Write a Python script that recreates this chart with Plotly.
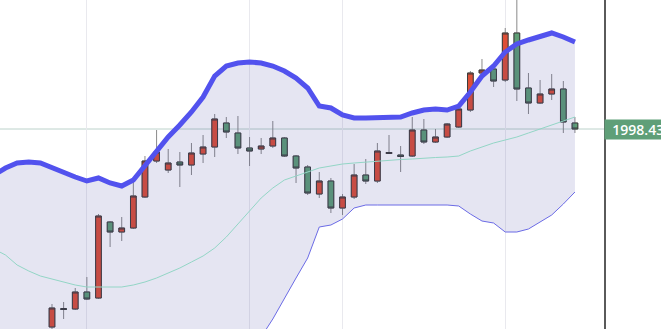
import plotly.graph_objects as go

# ---- data -------------------------------------------------------------
candle_idx = list(range(0, 46))
open_ = [1879.63, 1890.73, 1890.43, 1900.63, 1897.03, 1942.63, 1936.63, 1939.03, 1957.63, 1979.23,
         1973.83, 1978.63, 1976.83, 1983.43, 1987.63, 2002.03, 1996.03, 1987.03, 1986.43, 1988.23,
         1993.03, 1982.23, 1975.63, 1959.43, 1967.23, 1951.03, 1957.63, 1970.83, 1967.23, 1983.73,
         1982.83, 1982.23, 1997.83, 1990.63, 1993.63, 1999.63, 2009.83, 2032.03, 2034.43, 2027.83,
         2056.03, 2023.03, 2014.03, 2019.43, 2022.43, 2002.03]
high = [1893.43, 1894.63, 1903.03, 1909.63, 1947.43, 1943.23, 1945.63, 1967.83, 1982.23, 1997.83,
        1986.43, 1984.63, 1990.03, 1994.83, 2007.43, 2005.63, 2006.23, 1993.63, 1993.03, 2003.23,
        1993.63, 1982.83, 1976.83, 1972.63, 1969.03, 1959.43, 1977.43, 1980.43, 1990.03, 1994.83,
        1988.23, 2005.63, 2004.43, 1998.43, 2002.03, 2011.03, 2033.23, 2040.43, 2035.03, 2059.03,
        2084.83, 2032.03, 2027.83, 2031.43, 2027.23, 2005.63]
low = [1877.83, 1884.43, 1889.83, 1895.83, 1896.43, 1927.63, 1931.23, 1938.43, 1957.03, 1978.03,
       1972.03, 1963.63, 1970.83, 1978.03, 1981.63, 1993.03, 1983.43, 1976.23, 1983.43, 1987.03,
       1981.63, 1966.03, 1958.83, 1957.03, 1948.03, 1946.83, 1956.43, 1965.43, 1966.03, 1983.43,
       1972.63, 1981.63, 1989.43, 1990.03, 1993.03, 1999.03, 2008.63, 2031.43, 2023.63, 2026.63,
       2015.23, 2007.43, 2013.43, 2015.83, 1996.03, 1996.03]
close = [1891.03, 1890.13, 1900.63, 1896.43, 1946.23, 1936.63, 1939.03, 1958.23, 1979.23, 1984.63,
         1978.03, 1976.83, 1984.03, 1987.63, 2004.43, 1996.63, 1987.03, 1985.23, 1988.23, 1993.03,
         1982.23, 1975.03, 1960.03, 1967.23, 1951.03, 1957.63, 1970.83, 1967.23, 1985.23, 1984.33,
         1981.93, 1997.83, 1990.63, 1993.63, 2001.43, 2010.43, 2032.03, 2033.83, 2027.23, 2056.03,
         2022.43, 2014.03, 2019.43, 2022.43, 2002.63, 1998.43]

band_idx = list(range(-5, 46))
upper_band = [1970.83, 1975.03, 1978.03, 1978.63, 1978.03, 1975.03, 1972.03, 1969.63, 1967.23, 1969.03,
              1966.03, 1964.23, 1967.83, 1976.83, 1985.23, 1993.63, 2000.83, 2008.63, 2017.63, 2030.23,
              2036.23, 2038.03, 2038.63, 2038.03, 2036.23, 2033.23, 2029.03, 2023.03, 2012.23, 2011.03,
              2006.83, 2005.03, 2005.03, 2005.03, 2005.63, 2005.63, 2008.03, 2009.83, 2010.43, 2009.83,
              2012.23, 2020.63, 2030.23, 2036.23, 2044.63, 2049.43, 2051.83, 2054.23, 2056.03, 2053.63,
              2050.63]
middle_band = [1926.43, 1922.83, 1916.83, 1913.23, 1910.23, 1908.43, 1906.63, 1904.83, 1903.63, 1903.63,
               1903.63, 1903.63, 1904.83, 1906.63, 1909.03, 1912.03, 1915.03, 1918.63, 1922.23, 1927.03,
               1933.63, 1941.43, 1949.23, 1957.03, 1963.03, 1967.83, 1970.23, 1972.63, 1975.03, 1976.23,
               1977.43, 1978.03, 1978.63, 1979.23, 1979.83, 1980.13, 1980.43, 1981.03, 1981.33, 1981.63,
               1982.23, 1985.23, 1987.63, 1990.03, 1991.83, 1993.63, 1996.03, 1998.43, 2000.83, 2003.23,
               2005.63]
lower_band = [1877.83, 1870.63, 1855.63, 1847.83, 1842.43, 1841.83, 1841.23, 1840.03, 1840.03, 1838.23,
              1841.23, 1843.03, 1841.83, 1836.43, 1832.83, 1830.43, 1829.23, 1828.63, 1826.83, 1823.83,
              1831.03, 1844.83, 1859.83, 1873.63, 1884.43, 1897.03, 1909.03, 1921.03, 1939.63, 1940.83,
              1944.43, 1951.03, 1952.83, 1952.83, 1952.83, 1952.83, 1952.83, 1952.83, 1952.83, 1952.83,
              1952.23, 1947.43, 1943.23, 1942.03, 1936.63, 1936.63, 1938.43, 1942.63, 1946.83, 1953.43,
              1960.63]

last_price = 1998.43
last_price_label = "1998.430"
grid_positions = [3, 17, 25, 39]

# ---- styles -----------------------------------------------------------
UP_FILL = "#dd4f37"
DOWN_FILL = "#5f9f76"
OUTLINE = "#3c3c3c"
WICK = "#8a8a8a"

fig = go.Figure()

fig.add_trace(go.Scatter(x=band_idx, y=lower_band, mode="lines",
                         line=dict(color="#6b6be6", width=1), hoverinfo="skip"))
fig.add_trace(go.Scatter(x=band_idx, y=upper_band, mode="lines", fill="tonexty",
                         fillcolor="rgba(60,60,160,0.135)",
                         line=dict(color="#5252ee", width=5), hoverinfo="skip"))
fig.add_trace(go.Scatter(x=band_idx, y=middle_band, mode="lines",
                         line=dict(color="#93d6c6", width=1), hoverinfo="skip"))

# wicks (full range, gray)
fig.add_trace(go.Candlestick(
    x=candle_idx, open=open_, high=high, low=low, close=close,
    increasing=dict(line=dict(color=WICK, width=1), fillcolor=UP_FILL),
    decreasing=dict(line=dict(color=WICK, width=1), fillcolor=DOWN_FILL),
    hoverinfo="skip"))
# bodies (dark outline, no wick)
body_hi = [max(o, c) for o, c in zip(open_, close)]
body_lo = [min(o, c) for o, c in zip(open_, close)]
fig.add_trace(go.Candlestick(
    x=candle_idx, open=open_, high=body_hi, low=body_lo, close=close,
    increasing=dict(line=dict(color=OUTLINE, width=1), fillcolor=UP_FILL),
    decreasing=dict(line=dict(color=OUTLINE, width=1), fillcolor=DOWN_FILL)))

fig.add_shape(type="line", xref="paper", yref="y", x0=0, x1=1.01,
              y0=last_price, y1=last_price,
              line=dict(color="#bcd2cb", width=1), layer="below")

fig.add_annotation(xref="paper", yref="y", x=1, y=last_price, xanchor="left",
                   yanchor="middle", xshift=0, showarrow=False,
                   text="&nbsp;&nbsp;" + last_price_label,
                   bgcolor="#5f9f78", borderpad=0,
                   font=dict(family="Open Sans", size=14, color="white", weight=600))

fig.update_layout(
    width=661, height=329,
    margin=dict(l=0, r=57, t=0, b=0),
    paper_bgcolor="white", plot_bgcolor="white",
    showlegend=False,
    xaxis=dict(range=[-4.474, 47.5], rangeslider=dict(visible=False),
               tickvals=grid_positions, showticklabels=False, ticks="",
               showgrid=True, gridcolor="#e9e9ee", gridwidth=1,
               zeroline=False, showline=False),
    yaxis=dict(range=[1878.43, 2075.83], side="right", showgrid=False,
               zeroline=False, showticklabels=False, ticks="",
               showline=True, linecolor="#5a5a5a", linewidth=2),
)

fig.write_html("out.html")
